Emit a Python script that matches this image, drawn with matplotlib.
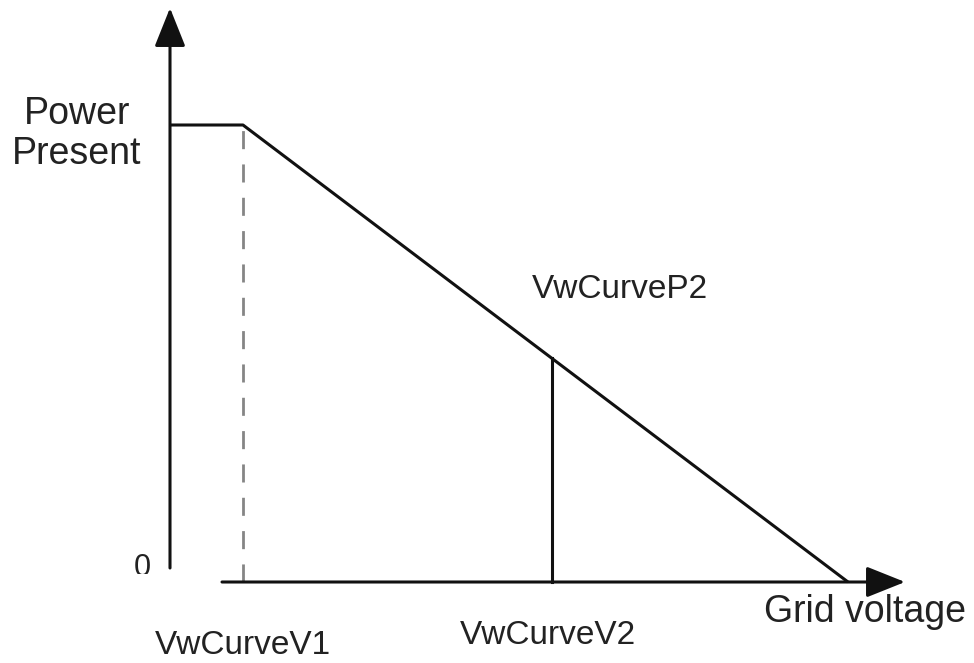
import matplotlib.pyplot as plt
from matplotlib.patches import Rectangle

plt.rcParams['font.family'] = ['Liberation Sans', 'DejaVu Sans']

# volt-watt curve, units are arbitrary (origin where the axes meet)
volts = [0, 73, 678]
power = [457, 457, 0]
v1 = 73
v2 = 382
p2 = 224
x_axis = [52, 735]
y_axis = [14, 574]

fig = plt.figure(figsize=(9.74, 6.63), dpi=100)
ax = fig.add_axes([0, 0, 1, 1])
ax.set_xlim(-170, 804)
ax.set_ylim(-81, 582)
ax.axis('off')

lw = 2.2
ink = '#111111'

# axes with arrow heads
arrow = dict(arrowstyle='-|>,head_length=1.2,head_width=0.48', color=ink,
             lw=lw, mutation_scale=20, shrinkA=0, shrinkB=0)
ax.annotate('', xy=(x_axis[1], 0), xytext=(x_axis[0], 0), arrowprops=arrow)
ax.annotate('', xy=(0, y_axis[1]), xytext=(0, y_axis[0]), arrowprops=arrow)

# curve
ax.plot(volts, power, color=ink, lw=lw, solid_capstyle='butt')
ax.plot([v1, v1], [0, power[1]], color='#858585', lw=2.0, ls=(0, (6.5, 5.5)))
ax.plot([v2, v2], [0, p2], color=ink, lw=lw)

ax.text(-93, 448, 'Power\nPresent', fontsize=27, ha='center', va='center',
        color='#222222', linespacing=1.15)
# the "0" is cut off at the bottom in the original
zero = ax.text(-28, 14, '0', fontsize=22, ha='center', va='center',
               color='#222222', clip_on=True)
zero.set_clip_path(Rectangle((-60, 8), 60, 40, transform=ax.transData))

ax.text(v1, -63, 'VwCurveV1', fontsize=24, ha='center', va='center', color='#222222')
ax.text(v2 - 4, -53, 'VwCurveV2', fontsize=24, ha='center', va='center', color='#222222')
ax.text(450, 292, 'VwCurveP2', fontsize=24, ha='center', va='center', color='#222222')
ax.text(695, -30, 'Grid voltage', fontsize=27, ha='center', va='center', color='#222222')

fig.savefig('out.png', dpi=100, facecolor='white')
